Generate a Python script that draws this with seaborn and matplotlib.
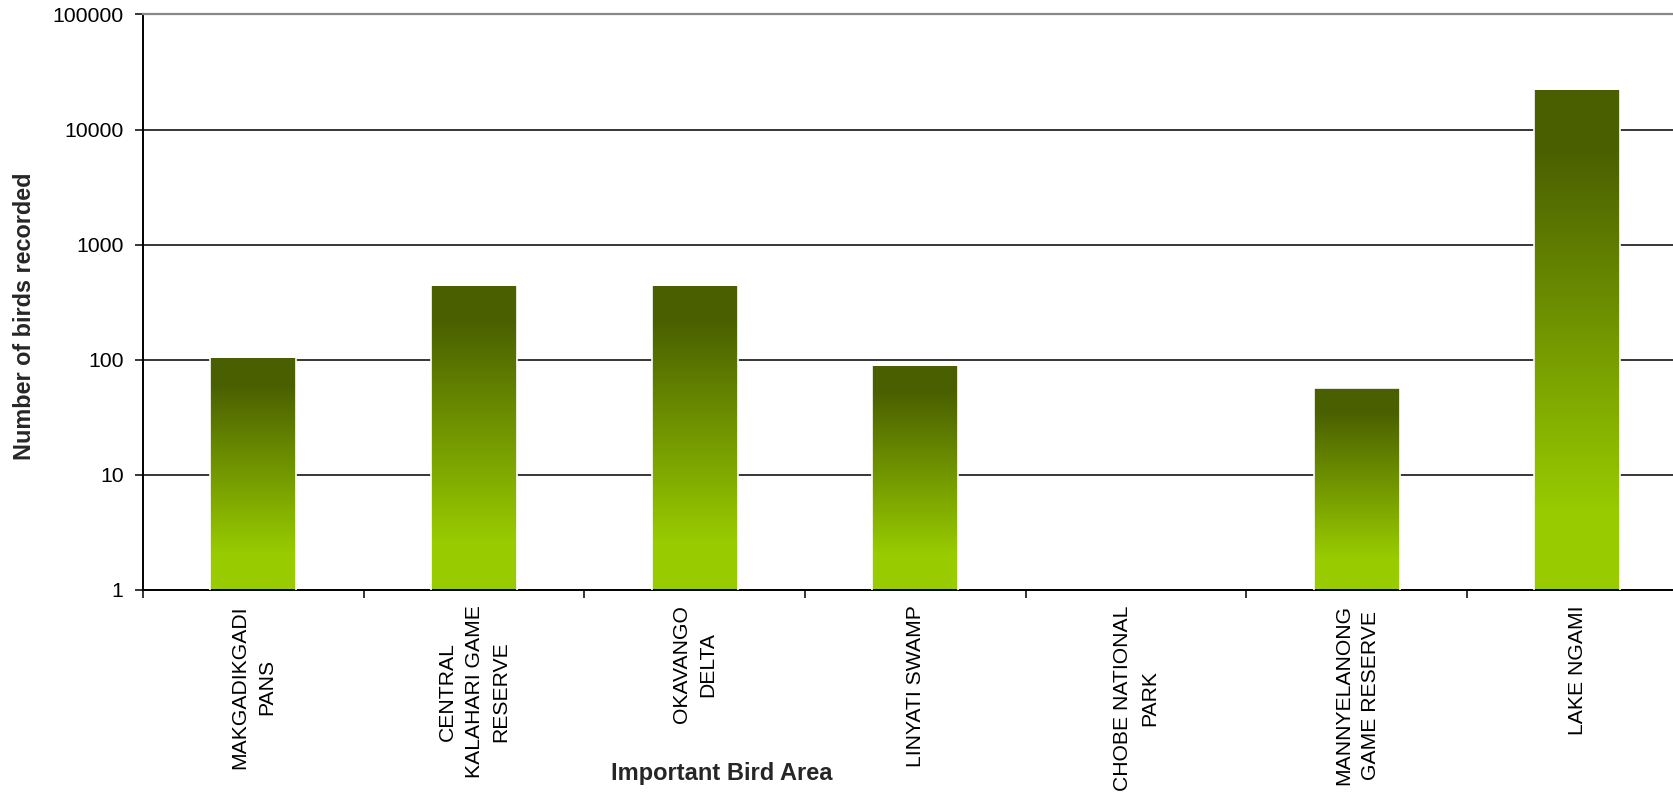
import matplotlib
matplotlib.use("Agg")
import matplotlib.pyplot as plt
import matplotlib.transforms as mtransforms
from matplotlib.colors import LinearSegmentedColormap
from matplotlib.ticker import NullLocator
import numpy as np
import seaborn as sns

# données
zones = [
    "MAKGADIKGADI\nPANS",
    "CENTRAL\nKALAHARI GAME\nRESERVE",
    "OKAVANGO\nDELTA",
    "LINYATI SWAMP",
    "CHOBE NATIONAL\nPARK",
    "MANNYELANONG\nGAME RESERVE",
    "LAKE NGAMI",
]
oiseaux = [105, 445, 445, 90, 0, 57, 22400]
graduations = [1, 10, 100, 1000, 10000, 100000]

sns.set_style("white")
plt.rcParams["font.family"] = ["Liberation Sans", "DejaVu Sans"]
plt.rcParams["text.color"] = "black"
plt.rcParams["xtick.color"] = "black"
plt.rcParams["ytick.color"] = "black"

fig = plt.figure(figsize=(16.73, 7.99), dpi=100)
ax = fig.add_axes([0.0855, 0.2616, 1 - 0.0855, 0.9819 - 0.2616])

sns.barplot(x=zones, y=oiseaux, ax=ax, width=0.39, color="#99cc00",
            saturation=1, errorbar=None)
ax.set_yscale("log")
ymin, ymax = 1, 100000
ax.set_ylim(ymin, ymax)

# dégradé vertical dans chaque barre
degrade = LinearSegmentedColormap.from_list(
    "vert", [(0, "#99cc00"), (0.15, "#99cc00"), (0.88, "#4a6000"), (1, "#4a6000")])
mixte = mtransforms.blended_transform_factory(ax.transData, ax.transAxes)
for barre, n in zip(ax.patches, oiseaux):
    barre.set_facecolor("none")
    barre.set_edgecolor("white")
    barre.set_linewidth(1.2)
    barre.set_zorder(3)
    if n <= 1:
        continue
    x0 = barre.get_x()
    x1 = x0 + barre.get_width()
    haut = (np.log10(n) - np.log10(ymin)) / (np.log10(ymax) - np.log10(ymin))
    ax.imshow(np.linspace(0, 1, 256).reshape(-1, 1), cmap=degrade, origin="lower",
              aspect="auto", extent=(x0, x1, 0, haut), transform=mixte,
              zorder=2, interpolation="bilinear")

ax.set_yticks(graduations)
ax.set_yticklabels([str(g) for g in graduations])
ax.yaxis.set_minor_locator(NullLocator())
ax.set_xticks(range(len(zones)))
ax.set_xticklabels(zones, rotation=90, fontsize=15.2, linespacing=1.5)
ax.set_xticks(np.arange(-0.5, len(zones), 1), minor=True)
ax.tick_params(axis="x", which="major", bottom=True, length=0, pad=11)
ax.tick_params(axis="x", which="minor", bottom=True, length=6, width=1.1,
               color="black", direction="out")
ax.tick_params(axis="y", which="major", left=True, length=6, width=1.1,
               pad=8, labelsize=15.3, direction="out")

# limites après set_xticks, qui les élargit sinon
ax.set_ylim(ymin, ymax)
ax.set_xlim(-0.5, 6.433)

ax.yaxis.grid(True, color="black", linewidth=1.1)
ax.xaxis.grid(False)
ax.set_axisbelow(True)

for cote in ["left", "bottom"]:
    ax.spines[cote].set_color("black")
    ax.spines[cote].set_linewidth(1.4)
ax.spines["top"].set_color("#888888")
ax.spines["top"].set_linewidth(1.6)
ax.spines["right"].set_visible(False)

ax.set_ylabel("Number of birds recorded", fontsize=16.8, fontweight="bold")
ax.yaxis.set_label_coords(-0.070, 0.475)
ax.set_xlabel("Important Bird Area", fontsize=17, fontweight="bold")
ax.xaxis.set_label_coords(0.378, -0.299)

fig.savefig("out.png", dpi=100)
